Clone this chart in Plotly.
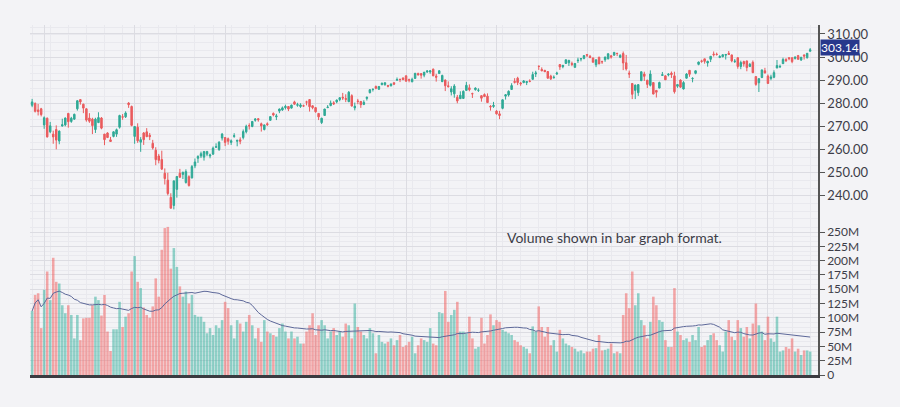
import plotly.graph_objects as go
import pandas as pd

opens = [279.0,279.8,277.0,277.5,270.5,273.4,267.5,266.5,268.5,263.5,270.0,270.5,275.5,272.0,273.0,277.5,281.5,279.5,277.5,273.5,
273.0,268.5,271.5,273.5,266.5,267.0,264.0,265.5,266.5,269.5,274.0,274.0,280.0,278.5,265.5,269.5,263.0,267.0,267.5,266.0,
262.5,259.5,257.0,255.5,249.5,246.5,239.0,235.5,242.5,249.5,249.0,245.5,248.0,247.5,252.7,256.0,257.0,256.5,257.8,257.0,
257.8,260.8,259.8,264.8,265.0,264.5,262.9,265.5,263.4,264.0,265.0,267.5,270.2,269.8,272.5,273.2,271.0,268.5,271.0,272.5,
275.5,274.0,276.5,277.0,278.0,278.5,277.8,280.5,279.0,278.5,278.8,280.5,281.5,278.8,278.0,275.5,271.5,274.6,278.0,278.9,
280.1,280.5,281.5,282.5,282.0,280.6,283.2,277.9,280.9,280.7,279.4,282.0,284.5,285.9,287.2,286.0,288.0,288.0,287.6,287.5,
288.8,289.9,290.3,290.9,291.8,290.1,289.2,290.7,292.8,292.8,292.1,293.5,293.5,294.7,291.7,292.8,289.3,290.0,287.5,284.8,
284.0,282.5,281.9,282.0,285.5,286.6,284.1,285.8,285.5,283.2,283.7,283.0,278.6,278.5,276.5,275.3,277.7,283.0,283.5,285.9,
289.4,290.8,288.7,288.9,288.9,289.5,290.3,292.6,296.0,294.6,294.2,293.7,291.7,291.0,292.6,296.7,295.8,297.2,297.5,297.2,
295.5,298.4,299.1,299.4,301.1,300.3,299.6,296.6,299.9,298.0,298.8,299.2,300.5,300.8,301.6,299.9,301.5,297.5,293.0,288.5,
285.5,284.5,289.7,292.6,289.9,287.7,288.9,285.5,286.5,292.0,291.8,292.2,293.0,291.8,287.3,290.0,286.1,290.8,294.2,290.6,
292.9,296.8,298.3,299.2,297.4,299.0,301.3,301.2,299.8,300.1,300.8,301.6,300.9,298.0,299.7,295.9,298.0,298.3,295.9,297.7,
291.5,288.8,291.1,294.0,291.7,290.7,291.2,295.2,295.7,297.1,298.9,299.7,299.7,299.4,300.6,298.7,300.9,299.7,302.5]

highs = [281.8,280.3,279.6,277.9,274.2,273.7,271.8,268.0,270.3,268.1,273.2,273.7,275.7,274.0,275.4,281.2,281.5,279.7,277.7,275.6,
273.6,273.6,276.0,273.9,266.6,267.3,265.3,267.7,268.9,274.9,275.2,276.4,280.4,278.9,269.9,271.2,265.2,267.4,269.1,267.0,
264.0,260.8,257.9,259.3,251.6,249.7,240.8,246.2,248.3,251.4,250.2,251.2,248.6,253.1,255.9,257.3,258.9,259.2,259.0,258.0,
261.1,262.5,263.4,267.0,265.2,265.0,264.2,266.9,264.0,265.1,268.5,270.6,271.2,272.1,273.4,273.4,271.5,270.6,271.6,274.3,
275.9,275.3,277.6,278.5,279.3,278.7,279.3,281.0,280.1,279.9,279.3,281.0,281.6,279.0,278.2,275.6,273.6,277.5,279.1,281.1,
280.8,281.5,282.5,284.4,283.8,285.2,283.8,280.2,281.8,280.9,281.2,282.8,286.0,286.2,287.6,287.3,288.9,289.0,287.9,288.4,
289.0,291.1,290.6,291.1,292.0,290.6,291.0,293.1,293.2,292.9,293.5,294.3,294.2,295.0,292.7,294.3,292.3,290.2,289.4,287.3,
288.2,283.5,285.1,285.5,289.2,288.1,284.5,286.8,286.4,283.3,284.2,284.2,279.1,280.5,276.9,276.6,281.6,283.9,285.5,288.6,
290.8,291.4,289.2,290.0,289.4,290.3,293.6,294.0,296.3,295.5,294.4,293.8,292.3,292.0,293.6,296.9,296.5,298.8,298.8,298.0,
297.3,299.7,299.4,300.7,301.1,300.9,299.7,298.9,300.1,298.4,300.1,301.6,300.9,302.2,301.8,301.2,302.4,300.9,294.1,288.6,
288.0,288.2,293.6,293.6,290.1,294.2,288.9,285.6,289.3,293.5,292.0,293.0,293.7,293.6,288.0,290.3,289.5,293.0,294.2,291.2,
294.1,298.0,298.8,299.2,298.4,300.4,302.4,301.9,300.8,301.1,301.2,302.6,301.0,299.1,299.9,298.4,298.4,298.4,297.4,298.5,
291.5,290.8,294.5,295.3,292.4,292.3,294.2,298.7,296.7,299.7,299.5,300.0,299.7,300.2,300.9,300.0,301.1,301.7,303.9]

lows = [278.2,275.9,274.6,274.2,268.8,265.0,266.9,262.3,259.9,262.1,269.8,269.9,269.3,271.4,272.7,276.7,279.3,275.6,271.9,271.4,
266.5,267.0,271.3,268.6,261.7,264.9,263.2,265.1,265.3,268.9,272.7,273.5,277.9,269.9,262.3,262.7,258.8,261.8,265.2,263.9,
259.8,253.0,253.8,250.9,244.6,239.9,234.3,233.8,238.9,247.5,247.0,245.0,243.7,247.2,251.7,254.0,256.1,255.0,256.9,256.0,
257.5,260.6,259.2,263.7,261.3,261.9,261.8,264.9,261.2,262.1,264.2,266.8,268.5,269.5,271.9,271.9,267.6,268.1,270.1,272.4,
274.2,272.6,275.6,276.6,277.2,276.5,277.6,279.3,278.4,277.9,278.3,279.0,276.3,277.3,275.8,272.6,270.9,274.4,277.8,278.6,
279.2,279.9,280.8,281.3,280.4,280.4,278.5,276.8,279.5,277.9,279.1,281.1,284.2,285.0,286.0,285.7,287.7,287.5,286.8,287.2,
287.8,289.8,289.1,289.9,289.3,289.0,289.1,290.6,292.0,290.6,291.2,293.1,292.7,291.7,289.3,292.7,289.1,285.2,286.8,283.3,
282.3,279.9,281.8,281.9,285.4,285.1,282.2,285.4,284.8,280.6,282.6,280.2,276.7,277.9,275.0,273.0,277.3,281.5,282.8,285.8,
288.5,287.8,287.5,288.6,287.8,289.0,290.2,291.3,294.4,293.8,293.5,290.6,290.0,290.6,292.2,294.4,295.1,297.0,296.1,296.0,
295.4,297.4,298.1,299.0,300.0,299.6,297.7,295.6,296.9,297.0,297.9,299.0,299.3,300.6,300.4,299.5,294.3,294.1,290.9,281.7,
281.7,283.1,289.6,289.6,286.5,287.2,283.8,282.4,286.4,291.8,290.1,291.6,290.9,284.1,286.6,286.6,285.9,290.6,291.4,289.0,
292.5,296.4,297.5,297.1,295.8,297.8,300.2,300.6,299.5,299.9,298.9,300.9,297.7,297.4,294.9,294.7,295.8,293.8,295.6,293.0,
287.5,284.8,290.8,292.8,288.5,289.9,290.8,295.2,295.2,297.0,297.8,298.6,297.3,298.9,298.9,298.3,298.9,299.3,302.4]

closes = [280.5,276.4,276.3,275.0,273.6,265.3,270.1,265.3,263.9,267.8,270.6,273.5,271.9,273.4,275.1,281.0,280.5,277.8,272.6,272.1,
270.2,273.0,273.7,269.1,264.1,265.0,263.3,267.5,268.4,274.6,273.9,275.7,279.3,270.3,269.8,263.6,264.1,264.1,265.4,265.4,
260.5,255.4,255.1,251.3,247.2,240.7,234.3,246.2,248.1,247.8,249.9,250.2,244.2,252.4,254.4,256.8,258.0,258.9,259.0,257.4,
260.4,261.0,263.0,266.5,262.9,263.4,263.6,265.8,263.8,263.4,267.6,269.9,270.1,272.0,273.1,272.7,270.1,270.5,270.6,274.1,
274.8,274.4,277.4,277.9,278.5,277.4,279.1,279.5,279.3,279.2,278.7,280.4,278.4,278.0,276.2,274.0,273.4,277.4,278.2,280.0,
279.6,281.3,282.3,282.2,281.6,284.7,278.7,278.6,280.7,279.3,280.3,282.5,285.8,286.0,286.4,287.2,288.6,288.8,287.3,288.3,
288.2,290.2,290.2,290.2,289.5,290.0,290.3,292.9,292.2,292.1,293.4,293.9,294.0,291.8,291.2,294.0,292.0,287.5,287.1,286.2,
287.4,280.9,283.4,285.1,287.7,285.8,284.0,286.5,285.6,282.1,282.8,280.2,278.3,279.0,275.3,274.6,281.4,283.6,285.1,287.6,
289.0,288.9,288.4,289.6,289.3,289.4,292.4,293.1,295.9,294.0,293.6,290.8,290.5,291.2,293.0,295.7,296.4,298.8,298.5,296.8,
297.2,298.6,299.3,300.6,300.8,299.7,297.7,298.8,297.0,297.9,300.0,301.4,300.0,302.0,301.5,300.7,297.4,294.8,292.6,283.8,
287.8,288.0,293.6,291.6,288.1,292.6,283.9,284.7,288.9,292.3,290.1,292.5,292.4,284.9,288.0,286.9,288.9,292.6,292.5,290.7,
294.0,297.8,298.1,298.1,298.1,300.3,301.0,301.1,300.2,301.0,301.1,301.1,298.3,298.2,295.9,297.6,297.0,295.4,296.8,293.2,
288.1,290.6,294.4,293.1,288.5,291.3,293.2,296.3,295.9,298.9,298.4,299.3,298.0,300.0,299.0,299.9,300.4,301.6,303.14]

volumes_m = [112,140,143,82,149,181,131,205,163,160,122,108,122,105,64,105,61,99,100,100,
122,137,131,104,140,76,42,80,80,128,84,102,108,181,208,163,152,118,105,100,
120,169,137,219,257,259,186,222,189,155,137,146,125,140,105,102,102,93,73,82,
70,87,82,96,128,117,87,64,96,90,76,93,105,87,64,82,58,96,76,73,
70,67,82,90,76,64,76,64,67,55,55,76,87,108,70,87,96,87,64,76,
82,70,76,67,90,87,64,125,84,76,70,64,82,73,38,70,58,55,58,64,
52,61,70,49,52,58,67,38,52,64,61,58,82,55,52,110,108,147,93,105,
114,128,76,76,73,102,64,46,49,100,55,70,106,87,96,93,79,76,73,70,
61,58,52,49,46,38,85,76,120,84,67,84,52,61,41,79,64,55,52,49,
46,41,43,38,41,41,46,47,70,43,44,46,55,38,41,38,105,143,117,181,
122,143,96,87,64,93,137,122,96,93,61,49,49,152,76,70,61,64,58,70,
61,84,49,52,61,70,73,61,52,41,76,96,67,61,96,82,67,84,64,90,
125,87,76,61,102,64,58,102,41,43,49,46,64,41,46,35,43,43,41]

vol_tickvals = [0, 25, 50, 75, 100, 125, 150, 175, 200, 225, 250]
vol_ticktext = ["0", "25M", "50M", "75M", "100M", "125M", "150M", "175M", "200M", "225M", "250M"]
price_tickvals = [240, 250, 260, 270, 280, 290, 300, 310]
price_ticktext = ["%.2f" % v for v in price_tickvals]
ma_window = 30

idx = list(range(len(closes)))
up_col = "#2fa996"
dn_col = "#ea5b5d"
vol_colors = ["rgba(60,178,160,0.55)" if c >= o else "rgba(240,100,100,0.55)" for o, c in zip(opens, closes)]
vol_ma = pd.Series(volumes_m).rolling(ma_window, min_periods=1).mean().tolist()

fig = go.Figure()
fig.add_trace(go.Candlestick(
    x=idx, open=opens, high=highs, low=lows, close=closes,
    increasing=dict(line=dict(color=up_col, width=1), fillcolor=up_col),
    decreasing=dict(line=dict(color=dn_col, width=1), fillcolor=dn_col),
    whiskerwidth=0, xaxis="x", yaxis="y", showlegend=False, hoverinfo="skip"))
fig.add_trace(go.Bar(x=idx, y=volumes_m, marker=dict(color=vol_colors, line=dict(width=0)),
                     xaxis="x2", yaxis="y2", showlegend=False))
fig.add_trace(go.Scatter(x=idx, y=vol_ma, mode="lines", line=dict(color="#5d6899", width=1),
                         xaxis="x2", yaxis="y2", showlegend=False))

grid_major = "#dcdce2"
grid_minor = "#e9e9ee"
xr = [-0.7, 260.6]
split = 0.437

fig.update_layout(
    width=900, height=407,
    margin=dict(l=30, r=82, t=25, b=32),
    paper_bgcolor="#f3f3f6", plot_bgcolor="#f3f3f6",
    bargap=0.15,
    font=dict(family="Lato", size=12, color="#3d3d48"),
    xaxis=dict(domain=[0, 1], range=xr, anchor="y", showticklabels=False, rangeslider=dict(visible=False),
               showgrid=True, gridcolor=grid_major, dtick=30, tick0=4, zeroline=False,
               minor=dict(showgrid=True, gridcolor=grid_minor, dtick=6)),
    xaxis2=dict(domain=[0, 1], range=xr, anchor="y2", matches="x", showticklabels=False,
                showgrid=True, gridcolor=grid_major, dtick=30, tick0=4, zeroline=False,
                showline=True, linecolor="#3a3a40", linewidth=3,
                minor=dict(showgrid=True, gridcolor=grid_minor, dtick=6)),
    yaxis=dict(domain=[split, 1], range=[228.3, 313.9], side="right", anchor="x",
               tickvals=price_tickvals, ticktext=price_ticktext,
               ticks="outside", ticklen=5, tickcolor="#555", showline=True, linecolor="#555", linewidth=1.5,
               showgrid=True, gridcolor=grid_major, zeroline=False,
               minor=dict(showgrid=True, gridcolor=grid_minor, dtick=3.33),
               tickfont=dict(family="Lato", size=13, color="#3d3d48")),
    yaxis2=dict(domain=[0, split], range=[0, 267.5], side="right", anchor="x2",
                tickvals=vol_tickvals, ticktext=vol_ticktext,
                ticks="outside", ticklen=5, tickcolor="#555", showline=True, linecolor="#555", linewidth=1.5,
                showgrid=True, gridcolor=grid_major, zeroline=False,
                minor=dict(showgrid=True, gridcolor=grid_minor, dtick=8.33),
                tickfont=dict(family="Lato", size=12, color="#3d3d48")),
)

fig.add_annotation(xref="paper", x=1.002, yref="y", y=closes[-1] + 1.1, xanchor="left", yanchor="middle",
                   text="%.2f" % closes[-1], showarrow=False, bgcolor="#27388c",
                   font=dict(family="Lato", size=12, color="#ffffff"), borderpad=0)
fig.add_annotation(xref="x2", x=193, yref="y2", y=240, xanchor="center", yanchor="middle",
                   text="Volume shown in bar graph format.", showarrow=False,
                   font=dict(family="Lato", size=14, color="#3d3d48"))

fig.write_html("out.html", config={"displayModeBar": False},
               post_script="document.body.style.margin='0';")
